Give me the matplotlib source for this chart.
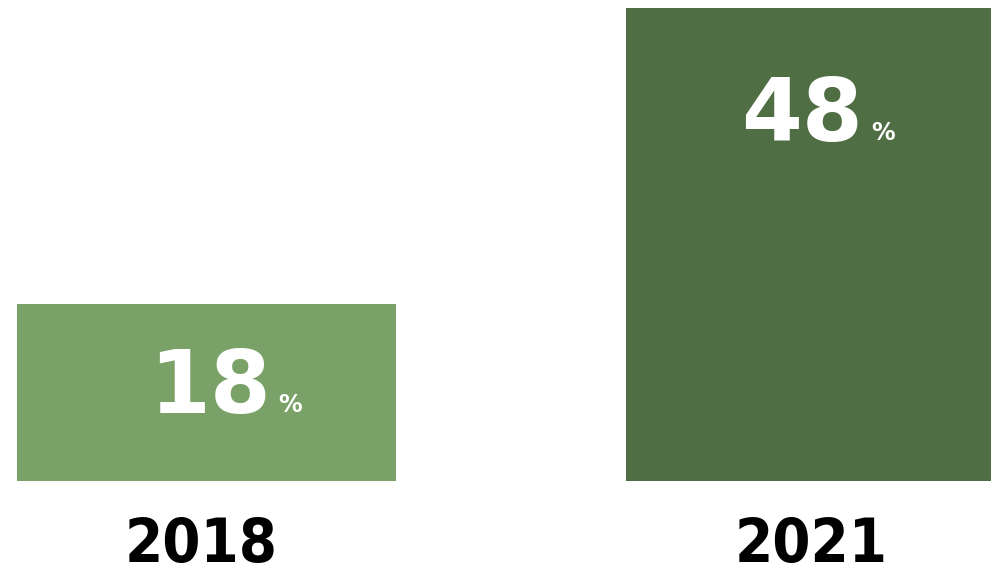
import matplotlib.pyplot as plt

years = ['2018', '2021']
values = [18, 48]
colors = ['#7aa268', '#506e43']
label_y = [9.3, 36.9]  # vertical centre of the big number inside each bar

fig = plt.figure(figsize=(9.91, 5.75), dpi=100)
ax = fig.add_axes([0, 94 / 575, 1, 481 / 575])

x = [0, 1]
ax.bar(x, values, width=0.622, color=colors)
ax.set_xlim(-0.339, 1.288)
ax.set_ylim(0, 48.81)
ax.axis('off')

for i, v in enumerate(values):
    t = ax.text(x[i] + 0.005 - 0.028 * i, label_y[i], str(v), ha='center', va='center',
                color='white', fontsize=63, fontweight='heavy', family='DejaVu Sans')
    ax.annotate('%', xy=(1, 0), xycoords=t, xytext=(6, 10), textcoords='offset points',
                ha='left', va='bottom', color='white', fontsize=17, fontweight='bold')
    ax.text(x[i] - 0.008, -8.2, years[i], ha='center', va='baseline', color='black',
            fontsize=44, fontweight='bold', fontstretch='condensed',
            family=['DejaVu Sans Condensed', 'DejaVu Sans'], clip_on=False)

plt.savefig('out.png', dpi=100)
